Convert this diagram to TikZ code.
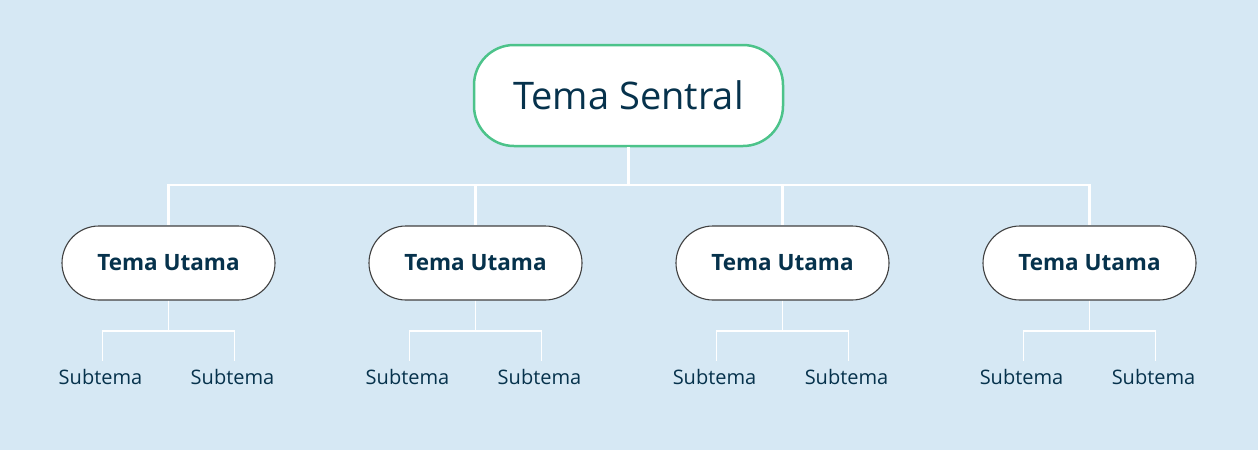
\documentclass[tikz,border=0pt]{standalone}
\usepackage{fontspec}
\setmainfont{Open Sans}
\usepackage{tikz}
\definecolor{bgblue}{RGB}{214,232,244}
\definecolor{navy}{RGB}{6,50,76}
\definecolor{mintgreen}{RGB}{76,195,138}
\definecolor{edgegray}{RGB}{64,64,64}
\tikzset{
    centre/.style={draw=mintgreen, line width=2.5pt, fill=white, rounded corners=40pt,
        minimum width=309pt, minimum height=101pt, text=navy, font=\fontsize{38}{42}\selectfont},
    mainbox/.style={draw=edgegray, line width=1.1pt, fill=white, rounded corners=37pt,
        minimum width=213pt, minimum height=74pt, text=navy, font=\bfseries\fontsize{22.5}{26}\selectfont},
    subtext/.style={text=navy, inner sep=0pt, anchor=north, font=\fontsize{20}{23}\selectfont, yshift=-8pt},
    trunk/.style={draw=white, line width=2.5pt},
    twig/.style={draw=white, line width=1.4pt}
}

\begin{document}
\begin{tikzpicture}[x=1pt, y=-1pt]
    \fill[bgblue] (0,0) rectangle (1258,450);
    \useasboundingbox (0,0) rectangle (1258,450);
    \node[centre] (c) at (628.5,95.5) {Tema Sentral};
    \coordinate (bar) at (628.5,185);
    \draw[trunk] (c.south) -- (bar);
    \foreach \i/\X in {1/168.5, 2/475.5, 3/782.5, 4/1089.5}{
        \node[mainbox] (m\i) at (\X,263) {Tema Utama};
        \draw[trunk] (bar) -| (m\i.north);
        \coordinate (k\i) at (\X,331);
        \coordinate (l\i) at (\X-66,361);
        \coordinate (r\i) at (\X+66,361);
        \node[subtext] (sl\i) at ([xshift=-2pt]l\i) {Subtema};
        \node[subtext] (sr\i) at ([xshift=-2pt]r\i) {Subtema};
        \draw[twig] (m\i.south) -- (k\i);
        \draw[twig] (k\i) -| (l\i);
        \draw[twig] (k\i) -| (r\i);
       };
\end{tikzpicture}
\end{document}
